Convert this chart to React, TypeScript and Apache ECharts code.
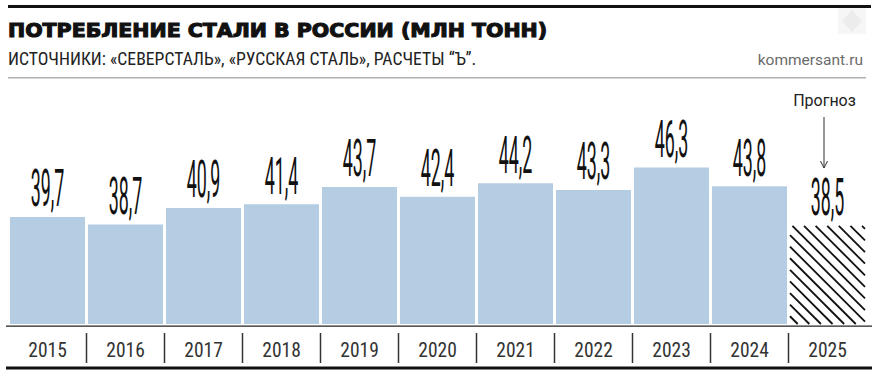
import React, { useEffect, useRef } from 'react';
import * as echarts from 'echarts';

const titleText = 'ПОТРЕБЛЕНИЕ СТАЛИ В РОССИИ (МЛН ТОНН)';
const subtitleText = 'ИСТОЧНИКИ: «СЕВЕРСТАЛЬ», «РУССКАЯ СТАЛЬ», РАСЧЕТЫ “Ъ”.';
const sourceText = 'kommersant.ru';
const forecastNote = 'Прогноз';

const years = ['2015', '2016', '2017', '2018', '2019', '2020', '2021', '2022', '2023', '2024', '2025'];
const consumption = [39.7, 38.7, 40.9, 41.4, 43.7, 42.4, 44.2, 43.3, 46.3, 43.8, 38.5];
const forecastYear = '2025';

const Y_MIN = 25.4;
const Y_MAX = 56.64;
const GAP_RATIO = 0.038;
const BAR_COLOR = '#b4cde3';
const NARROW = '"Liberation Sans Narrow", "Roboto Condensed", Roboto, sans-serif';

export default function App() {
  const ref = useRef<HTMLDivElement>(null);
  useEffect(() => {
    if (!ref.current) return;
    const chart = echarts.init(ref.current, null, { renderer: 'svg' });
    const forecastIndex = years.indexOf(forecastYear);
    const barData = consumption.map((v, i) => (i === forecastIndex ? '-' : v));

    const option: any = {
      animation: false,
      backgroundColor: '#ffffff',
      grid: { left: 8.5, right: 11.5, top: 90, bottom: 57, containLabel: false },
      xAxis: {
        type: 'category',
        data: years,
        axisLine: { show: false },
        axisTick: { show: false },
        axisLabel: {
          margin: 16,
          fontSize: 19.5,
          fontWeight: 'normal',
          fontFamily: NARROW,
          color: '#333',
        },
      },
      yAxis: { type: 'value', min: Y_MIN, max: Y_MAX, show: false, splitLine: { show: false } },
      series: [
        {
          type: 'bar',
          data: barData,
          barCategoryGap: (GAP_RATIO * 100).toFixed(1) + '%',
          itemStyle: { color: BAR_COLOR },
          silent: true,
        },
        {
          type: 'custom',
          data: [[forecastIndex, consumption[forecastIndex]]],
          silent: true,
          renderItem: (params: any, api: any) => {
            const idx = api.value(0);
            const v = api.value(1);
            const top = api.coord([idx, v]);
            const base = api.coord([idx, Y_MIN]);
            const band = api.size([1, 0])[0];
            const w = band * (1 - GAP_RATIO);
            const x0 = top[0] - w / 2;
            const x1 = top[0] + w / 2;
            const y0 = top[1];
            const y1 = base[1];
            const step = 11.6;
            const children: any[] = [];
            for (let c = y0 - x1 + 3; c <= y1 - x0; c += step) {
              const xs = Math.max(x0, y0 - c);
              const xe = Math.min(x1, y1 - c);
              if (xe - xs > 0.5) {
                children.push({
                  type: 'line',
                  shape: { x1: xs, y1: xs + c, x2: xe, y2: xe + c },
                  style: { stroke: '#111', lineWidth: 1.8 },
                });
              }
            }
            return { type: 'group', children };
          },
        },
        {
          type: 'custom',
          data: consumption.map((v, i) => [i, v]),
          silent: true,
          renderItem: (params: any, api: any) => {
            const idx = api.value(0);
            const v = api.value(1);
            const p = api.coord([idx, v]);
            return {
              type: 'text',
              x: p[0],
              y: p[1] - 28,
              scaleX: 0.35,
              style: {
                text: v.toFixed(1).replace('.', ','),
                fontSize: 51,
                fontWeight: 'normal',
                fontFamily: 'Roboto, sans-serif',
                fill: '#111',
                align: 'center',
                verticalAlign: 'middle',
              },
            };
          },
        },
        {
          type: 'custom',
          data: years.map((y, i) => [i, Y_MIN]),
          silent: true,
          renderItem: (params: any, api: any) => {
            const idx = api.value(0);
            if (idx === 0) return null;
            const p = api.coord([idx, Y_MIN]);
            const band = api.size([1, 0])[0];
            const x = p[0] - band / 2;
            return {
              type: 'line',
              shape: { x1: x, y1: 333, x2: x, y2: 363 },
              style: { stroke: '#333', lineWidth: 1.5 },
            };
          },
        },
      ],
      graphic: [
        { type: 'rect', shape: { x: 8, y: 5, width: 863, height: 3 }, style: { fill: '#111' } },
        {
          type: 'text',
          x: 8,
          y: 30.8,
          scaleX: 1.08,
          style: {
            text: titleText,
            fontSize: 19,
            fontWeight: 'bold',
            fontFamily: '"DejaVu Sans", sans-serif',
            fill: '#111',
            stroke: '#111',
            lineWidth: 1.1,
            align: 'left',
            verticalAlign: 'middle',
          },
        },
        {
          type: 'text',
          x: 8,
          y: 58.9,
          style: {
            text: subtitleText,
            fontSize: 17.7,
            fontFamily: NARROW,
            fill: '#222',
            align: 'left',
            verticalAlign: 'middle',
          },
        },
        {
          type: 'text',
          x: 863,
          y: 60.4,
          style: {
            text: sourceText,
            fontSize: 15.5,
            fontFamily: 'Roboto, sans-serif',
            fill: '#6b6b6b',
            align: 'right',
            verticalAlign: 'middle',
          },
        },
        { type: 'rect', shape: { x: 8, y: 77, width: 858, height: 1.5 }, style: { fill: '#b0b0b0' } },
        { type: 'rect', shape: { x: 6, y: 325.6, width: 866, height: 1.2 }, style: { fill: '#222' } },
        { type: 'rect', shape: { x: 6, y: 366.5, width: 866, height: 3 }, style: { fill: '#111' } },
        {
          type: 'text',
          x: 824.5,
          y: 100.5,
          style: {
            text: forecastNote,
            fontSize: 16,
            fontFamily: 'Roboto, sans-serif',
            fill: '#222',
            align: 'center',
            verticalAlign: 'middle',
          },
        },
        { type: 'line', shape: { x1: 824, y1: 117, x2: 824, y2: 168 }, style: { stroke: '#333', lineWidth: 1 } },
        {
          type: 'polyline',
          shape: { points: [[820.5, 161], [824, 168], [827.5, 161]] },
          style: { stroke: '#333', lineWidth: 1, fill: 'none' },
        },
        {
          type: 'group',
          children: [
            { type: 'rect', shape: { x: 838, y: 8, width: 28, height: 26 }, style: { fill: '#f6f6f6' } },
            {
              type: 'polygon',
              shape: { points: [[852, 10], [862, 21], [852, 32], [842, 21]] },
              style: { fill: '#ececec' },
            },
          ],
        },
      ],
    };
    chart.setOption(option);
    return () => chart.dispose();
  }, []);
  return <div ref={ref} style={{ position: 'absolute', left: 0, top: 0, width: 878, height: 381 }} />;
}
